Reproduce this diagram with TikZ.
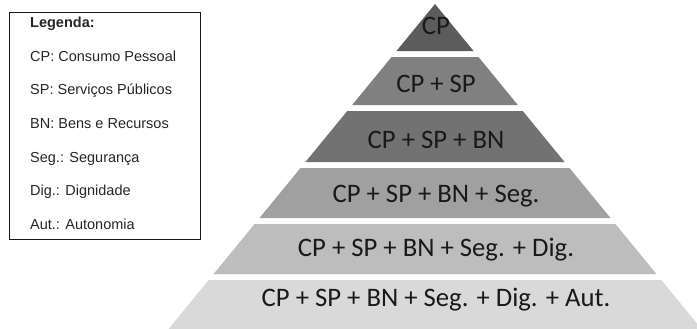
\documentclass[tikz,border=0pt]{standalone}
\usepackage{fontspec}
\setmainfont{Liberation Sans}
\newfontfamily\bandfont{Carlito}
\definecolor{bandA}{HTML}{5C5C5C}
\definecolor{bandB}{HTML}{808080}
\definecolor{bandC}{HTML}{727272}
\definecolor{bandD}{HTML}{A0A0A0}
\definecolor{bandE}{HTML}{BDBDBD}
\definecolor{bandF}{HTML}{D9D9D9}
% pyramid geometry: apex and half-width growth per unit of height
\def\pyrx{435}
\def\pyry{4}
\def\pyrslope{0.82}
% one horizontal slice of the pyramid between two heights
\newcommand\pyrband[3]{%
  \fill[#3] ({\pyrx-\pyrslope*(#1-\pyry)},#1) -- ({\pyrx+\pyrslope*(#1-\pyry)},#1)
    -- ({\pyrx+\pyrslope*(#2-\pyry)},#2) -- ({\pyrx-\pyrslope*(#2-\pyry)},#2) -- cycle;}
\begin{document}
\begin{tikzpicture}[x=1bp,y=-1bp,
  bandlabel/.style={font=\bandfont\fontsize{26.7bp}{32bp}\selectfont, text=black!90,
    inner sep=0pt, text height=17.2bp, text depth=0pt, anchor=center},
  legendtext/.style={font=\fontsize{14.5bp}{17bp}\selectfont, text=black!85,
    inner sep=0pt, anchor=base west},
  legendframe/.style={draw=black!90, line width=1.3bp, inner sep=0pt, anchor=north west}]
\useasboundingbox (0,0) rectangle (697,328);
\clip (0,0) rectangle (697,328);

% pyramid slices
\pyrband{4}{51}{bandA}
\pyrband{57}{105}{bandB}
\pyrband{111}{162}{bandC}
\pyrband{168}{218}{bandD}
\pyrband{224}{274}{bandE}
\pyrband{280}{340}{bandF}

% slice labels
\node[bandlabel] (l1) at (436,26) {CP};
\node[bandlabel] (l2) at (436,83.5) {CP + SP};
\node[bandlabel] (l3) at (436,139.5) {CP + SP + BN};
\node[bandlabel] (l4) at (436,194) {CP + SP + BN + Seg.};
\node[bandlabel] (l5) at (436,248) {CP + SP + BN + Seg. + Dig.};
\node[bandlabel] (l6) at (436,298) {CP + SP + BN + Seg. + Dig. + Aut.};

% legend
\node[legendframe, minimum width=191bp, minimum height=227bp] (legend) at (9,12) {};
\node[legendtext, font=\fontsize{14.5bp}{17bp}\selectfont\bfseries] (lg0) at (30,27) {Legenda:};
\node[legendtext] (lg1) at (30,61) {CP: Consumo Pessoal};
\node[legendtext] (lg2) at (30,94.5) {SP: Serviços Públicos};
\node[legendtext] (lg3) at (30,128) {BN: Bens e Recursos};
\node[legendtext] (lg4) at (30,162) {Seg.: Segurança};
\node[legendtext] (lg5) at (30,195.5) {Dig.: Dignidade};
\node[legendtext] (lg6) at (30,229) {Aut.: Autonomia};
\end{tikzpicture}
\end{document}
